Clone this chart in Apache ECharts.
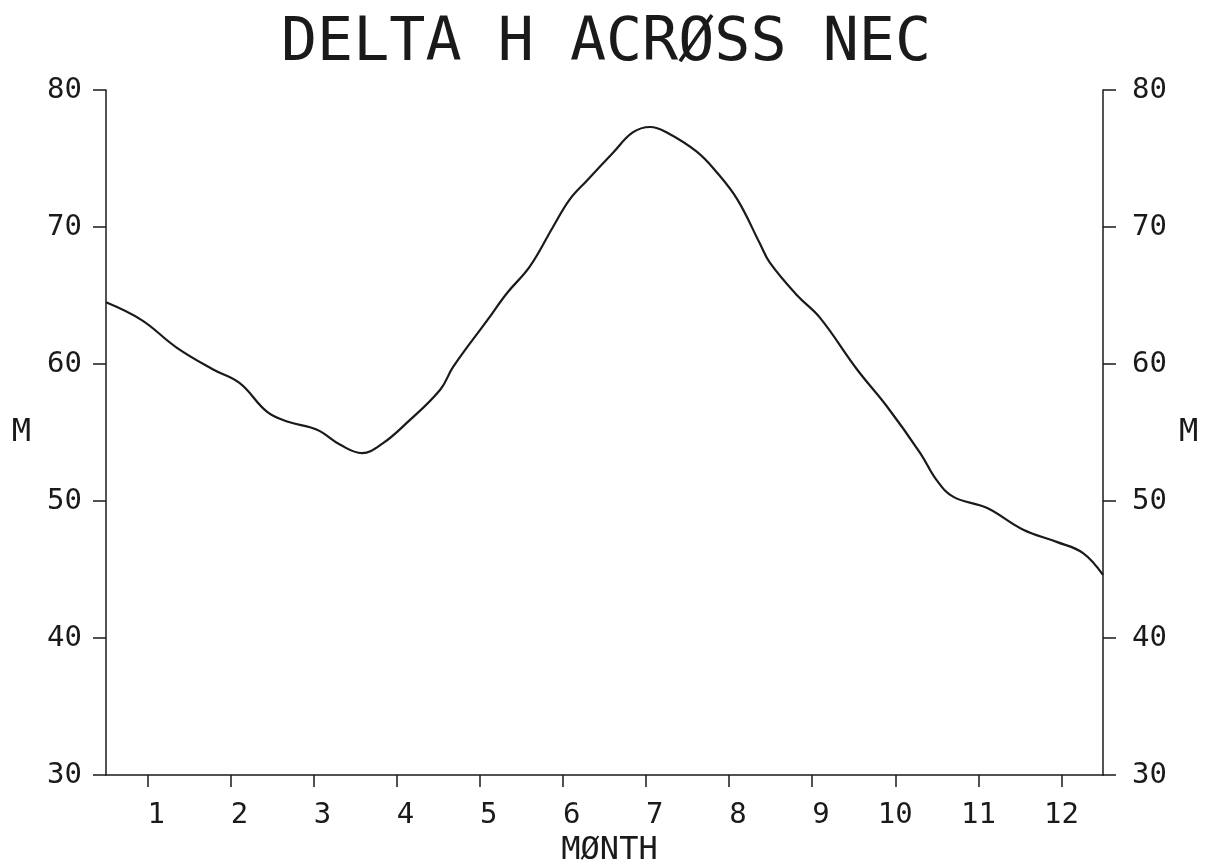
<!DOCTYPE html>
<html>
<head>
<meta charset="utf-8">
<script src="https://cdn.jsdelivr.net/npm/echarts@6/dist/echarts.min.js"></script>
<style>
html,body{margin:0;padding:0;background:#fff;}
#c{width:1212px;height:866px;}
</style>
</head>
<body>
<div id="c"></div>
<script>
// Month position (x) and Delta H in metres (y)
const monthX = [0.5, 0.93, 1.35, 1.79, 2.11, 2.44, 2.68, 3.04, 3.32, 3.58, 3.83, 4.12, 4.52, 4.68, 5.09, 5.33, 5.60, 5.88, 6.08, 6.29, 6.60, 6.84, 7.05, 7.25, 7.61, 7.85, 8.10, 8.37, 8.49, 8.82, 9.09, 9.54, 9.90, 10.30, 10.50, 10.70, 11.10, 11.54, 11.95, 12.26, 12.5];
const deltaH = [64.5, 63.2, 61.2, 59.6, 58.6, 56.5, 55.8, 55.2, 54.1, 53.5, 54.2, 55.7, 58.1, 59.8, 63.2, 65.2, 67.1, 70.0, 72.0, 73.4, 75.4, 76.9, 77.3, 76.9, 75.5, 74.0, 72.0, 68.8, 67.4, 65.0, 63.4, 59.6, 56.9, 53.5, 51.5, 50.3, 49.5, 47.9, 47.0, 46.2, 44.6];
const monthTicks = [1, 2, 3, 4, 5, 6, 7, 8, 9, 10, 11, 12];
const yTicks = [30, 40, 50, 60, 70, 80];

const titleText = 'DELTA H ACRØSS NEC';
const xName = 'MØNTH';
const yName = 'M';

const FONT = '"DejaVu Sans Mono", "Liberation Mono", monospace';
const INK = '#1a1a1a';

const chart = echarts.init(document.getElementById('c'), null, {renderer: 'canvas'});

function yAxisDef(pos, margin, gap) {
  return {
    type: 'value',
    position: pos,
    min: yTicks[0], max: yTicks[yTicks.length - 1], interval: 10,
    name: yName,
    nameLocation: 'middle',
    nameRotate: 0,
    nameGap: gap,
    nameTextStyle: {fontFamily: FONT, fontSize: 32, color: INK},
    axisLine: {show: true, lineStyle: {color: INK, width: 1.5}},
    axisTick: {show: true, inside: false, length: 13, lineStyle: {color: INK, width: 1.5}},
    axisLabel: {show: true, margin: margin, fontFamily: FONT, fontSize: 29, color: INK},
    splitLine: {show: false}
  };
}

chart.setOption({
  backgroundColor: '#ffffff',
  animation: false,
  title: {
    text: titleText,
    left: 'center',
    top: 14,
    padding: 0,
    textStyle: {fontFamily: FONT, fontSize: 60, fontWeight: 'normal', color: INK}
  },
  grid: {left: 106, right: 109, top: 90, bottom: 91, containLabel: false, outerBoundsMode: 'none'},
  xAxis: {
    type: 'value',
    min: 0.5, max: 12.5,
    name: xName,
    nameLocation: 'middle',
    nameGap: 58,
    nameTextStyle: {fontFamily: FONT, fontSize: 32, color: INK, padding: [0, 0, 0, 10]},
    axisLine: {show: true, onZero: false, lineStyle: {color: INK, width: 1.5}},
    axisTick: {show: true, inside: false, length: 12, customValues: monthTicks, lineStyle: {color: INK, width: 1.5}},
    axisLabel: {
      show: true, margin: 26, fontFamily: FONT, fontSize: 29, color: INK,
      customValues: monthTicks,
      formatter: v => (v < 10 ? '\u00a0' : '') + v
    },
    splitLine: {show: false}
  },
  yAxis: [yAxisDef('left', 24, 75), yAxisDef('right', 29, 76)],
  series: [{
    type: 'line',
    data: monthX.map((x, i) => [x, deltaH[i]]),
    smooth: 0.4,
    showSymbol: false,
    lineStyle: {color: INK, width: 2.2},
    clip: true
  }]
});
</script>
</body>
</html>
